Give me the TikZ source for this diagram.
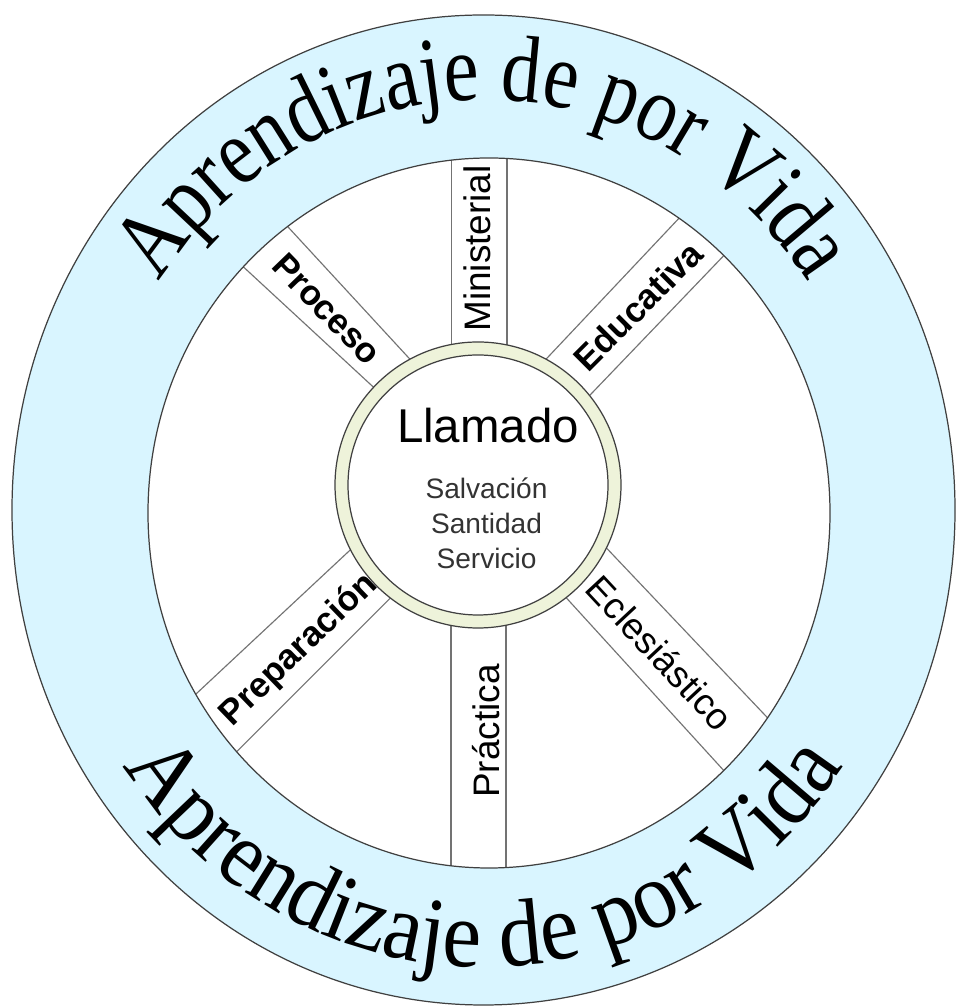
\documentclass[tikz,border=0pt]{standalone}
\usepackage{fontspec}
\setmainfont{Liberation Sans}
\newfontfamily\arctop[FakeStretch=0.83]{Liberation Serif}
\newfontfamily\arcbot[FakeStretch=0.92]{Liberation Serif}
\usetikzlibrary{decorations.text}
\definecolor{bandblue}{RGB}{217,245,255}
\definecolor{ringgreen}{RGB}{238,243,218}
\tikzset{
	rim/.style={draw=black!75, line width=0.7pt},
	spoke/.style={draw=black!55, line width=0.65pt},
	spokename/.style={inner sep=0pt, font=\fontsize{21}{24}\selectfont},
	spokebold/.style={inner sep=0pt, font=\fontsize{20}{24}\selectfont\bfseries},
	calltext/.style={inner sep=0pt, text=black!80, font=\fontsize{16}{20}\selectfont}
}

\begin{document}
\begin{tikzpicture}[x=0.02cm, y=0.02cm]
	\useasboundingbox (0,0) rectangle (957,1007);
	% band and wheel
	\draw[rim, fill=bandblue] (483.5,497) ellipse [x radius=471.5, y radius=495];
	\fill[white] (489,494) ellipse [x radius=341, y radius=355];
	\begin{scope}
		\clip (489,494) ellipse [x radius=341, y radius=355];
		\foreach \xa/\ya/\xb/\yb in {235.7/747.2/380.3/613.5, 279.1/789.7/416.2/641,
				539.7/641.1/687.6/797.9, 582.9/604.5/733.1/761.1,
				359.3/465.5/184/301.8, 402.3/420.9/226.1/244.7,
				598/467.9/773.6/282.8, 556.6/419.8/733.4/225.9,
				451.5/867/451.5/647, 507/867/507/647,
				451/397/451/122, 506/397/506/122}
			\draw[spoke] (\xa,\ya) -- (\xb,\yb);
	\end{scope}
	\draw[rim] (489,494) ellipse [x radius=341, y radius=355];
	% centre ring
	\coordinate (hub) at (478,522);
	\draw[rim, fill=ringgreen] (hub) circle [radius=143];
	\draw[rim, fill=white] (hub) circle [radius=130];
	% spoke names
	\node[spokename, rotate=90, anchor=base] (ministerial) at (490,758.5) {Ministerial};
	\node[spokename, rotate=90, anchor=base] (practica) at (499,276) {Práctica};
	\node[spokebold, rotate=-46] (proceso) at (327,698) {Proceso};
	\node[spokebold, rotate=45] (educativa) at (638,701) {Educativa};
	\node[spokebold, rotate=44] (preparacion) at (299,357) {Preparación};
	\node[spokename, rotate=-47] (eclesiastico) at (660,354) {Eclesiástico};
	% hub text
	\node[inner sep=0pt, anchor=base, font=\fontsize{27}{30}\selectfont] (llamado) at (488,564) {Llamado};
	\node[calltext, anchor=base] (salvacion) at (486.5,508.7) {Salvación};
	\node[calltext, anchor=base] (santidad) at (486.5,473.7) {Santidad};
	\node[calltext, anchor=base] (servicio) at (486.5,438) {Servicio};
	% lettering round the band
	\path[decorate, decoration={text along path, text align=center,
		text={|\arctop\fontsize{54}{60}\selectfont|Aprendizaje de por Vida}}]
		(93.5,497) arc [start angle=180, end angle=0, x radius=390, y radius=410];
	\path[decorate, decoration={text along path, text align=center,
		text={|\arcbot\fontsize{54}{60}\selectfont|Aprendizaje de por Vida}}]
		(48.5,497) arc [start angle=180, end angle=360, x radius=435, y radius=457];
\end{tikzpicture}
\end{document}
